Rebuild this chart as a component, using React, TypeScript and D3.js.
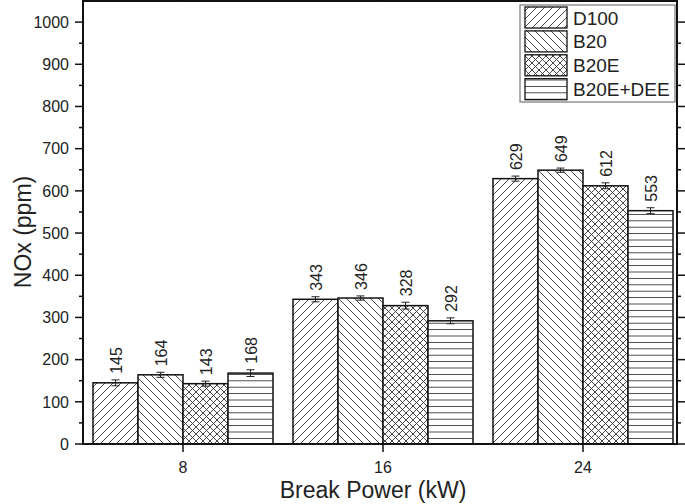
import React, { useEffect, useRef } from "react";
import * as d3 from "d3";

const groups = [8, 16, 24];
const seriesNames = ["D100", "B20", "B20E", "B20E+DEE"];
const d100 = [145, 343, 629];
const b20 = [164, 346, 649];
const b20e = [143, 328, 612];
const b20eDee = [168, 292, 553];
const d100Err = [7, 6, 6];
const b20Err = [6, 5, 5];
const b20eErr = [6, 8, 7];
const b20eDeeErr = [8, 7, 7];
const yTicks = [0, 100, 200, 300, 400, 500, 600, 700, 800, 900, 1000];

const values = [d100, b20, b20e, b20eDee];
const errors = [d100Err, b20Err, b20eErr, b20eDeeErr];
const patterns = ["hatchFwd", "hatchBack", "hatchCross", "hatchHoriz"];

export default function App() {
  const ref = useRef<SVGSVGElement>(null);

  useEffect(() => {
    const svg = d3.select(ref.current);
    svg.selectAll("*").remove();

    const width = 685,
      height = 504;
    const left = 83,
      right = 677,
      top = 1,
      bottom = 444;
    const font = "'Liberation Sans', Arial, sans-serif";

    const x = d3.scaleLinear().domain([4, 27.76]).range([left, right]);
    const y = d3.scaleLinear().domain([0, 1050]).range([bottom, top]);
    const barW = 1.8; // in x units
    const offsets = [-1.5, -0.5, 0.5, 1.5];

    // patterns
    const defs = svg.append("defs");
    const mk = (id, w, h, d) => {
      const p = defs
        .append("pattern")
        .attr("id", id)
        .attr("patternUnits", "userSpaceOnUse")
        .attr("width", w)
        .attr("height", h);
      p.append("rect").attr("width", w).attr("height", h).attr("fill", "#fff");
      p.append("path")
        .attr("d", d)
        .attr("stroke", "#333")
        .attr("stroke-width", 0.9)
        .attr("fill", "none");
    };
    mk("hatchFwd", 8, 8, "M-2,2 L2,-2 M0,8 L8,0 M6,10 L10,6");
    mk("hatchBack", 8, 8, "M-2,6 L2,10 M0,0 L8,8 M6,-2 L10,2");
    mk(
      "hatchCross",
      7,
      7,
      "M-2,2 L2,-2 M0,7 L7,0 M5,9 L9,5 M-2,5 L2,9 M0,0 L7,7 M5,-2 L9,2"
    );
    mk("hatchHoriz", 8, 6.4, "M0,3.2 L8,3.2");

    const g = svg.append("g");

    // bars
    values.forEach((vals, si) => {
      vals.forEach((v, gi) => {
        const cx = groups[gi] + offsets[si] * barW;
        const x0 = x(cx - barW / 2);
        const x1 = x(cx + barW / 2);
        g.append("rect")
          .attr("x", x0)
          .attr("y", y(v))
          .attr("width", x1 - x0)
          .attr("height", bottom - y(v))
          .attr("fill", `url(#${patterns[si]})`)
          .attr("stroke", "#111")
          .attr("stroke-width", 1.5);

        const e = errors[si][gi];
        const px = x(cx);
        g.append("path")
          .attr(
            "d",
            `M${px},${y(v - e)}V${y(v + e)}M${px - 4},${y(v + e)}H${px + 4}M${px - 4},${y(v - e)}H${px + 4}`
          )
          .attr("stroke", "#222")
          .attr("stroke-width", 1)
          .attr("fill", "none");

        g.append("text")
          .attr("transform", `translate(${px + 6},${y(v + e) - 6}) rotate(-90)`)
          .attr("font-family", font)
          .attr("font-size", 16)
          .attr("fill", "#222")
          .text(v);
      });
    });

    // frame
    g.append("rect")
      .attr("x", left)
      .attr("y", top)
      .attr("width", right - left)
      .attr("height", bottom - top)
      .attr("fill", "none")
      .attr("stroke", "#111")
      .attr("stroke-width", 2);

    // y axis ticks
    const minor = d3.range(50, 1050, 100);
    const tickG = g.append("g").attr("stroke", "#111").attr("stroke-width", 1.5);
    yTicks.forEach((t) => {
      tickG.append("line").attr("x1", left - 8).attr("x2", left).attr("y1", y(t)).attr("y2", y(t));
      tickG.append("line").attr("x1", right).attr("x2", right + 8).attr("y1", y(t)).attr("y2", y(t));
    });
    minor.forEach((t) => {
      tickG.append("line").attr("x1", left - 4).attr("x2", left).attr("y1", y(t)).attr("y2", y(t));
      tickG.append("line").attr("x1", right).attr("x2", right + 4).attr("y1", y(t)).attr("y2", y(t));
    });
    groups.forEach((t) => {
      tickG.append("line").attr("x1", x(t)).attr("x2", x(t)).attr("y1", bottom).attr("y2", bottom + 8);
      tickG.append("line").attr("x1", x(t)).attr("x2", x(t)).attr("y1", top).attr("y2", top - 8);
    });

    g.selectAll(".ylab")
      .data(yTicks)
      .enter()
      .append("text")
      .attr("x", left - 14)
      .attr("y", (d) => y(d))
      .attr("dy", "0.36em")
      .attr("text-anchor", "end")
      .attr("font-family", font)
      .attr("font-size", 16)
      .attr("fill", "#222")
      .text((d) => d);

    g.selectAll(".xlab")
      .data(groups)
      .enter()
      .append("text")
      .attr("x", (d) => x(d))
      .attr("y", 473)
      .attr("text-anchor", "middle")
      .attr("font-family", font)
      .attr("font-size", 16)
      .attr("fill", "#222")
      .text((d) => d);

    // axis titles
    g.append("text")
      .attr("x", 373)
      .attr("y", 498)
      .attr("text-anchor", "middle")
      .attr("font-family", font)
      .attr("font-size", 23)
      .attr("fill", "#222")
      .text("Break Power (kW)");

    g.append("text")
      .attr("transform", `translate(31,232) rotate(-90)`)
      .attr("text-anchor", "middle")
      .attr("font-family", font)
      .attr("font-size", 23)
      .attr("fill", "#222")
      .text("NOx (ppm)");

    // legend
    const lg = g.append("g");
    lg.append("rect")
      .attr("x", 520)
      .attr("y", 5)
      .attr("width", 155)
      .attr("height", 97)
      .attr("fill", "#fff")
      .attr("stroke", "#777")
      .attr("stroke-width", 1.2);
    seriesNames.forEach((name, i) => {
      const ry = 7 + i * 23.9;
      lg.append("rect")
        .attr("x", 525)
        .attr("y", ry)
        .attr("width", 42)
        .attr("height", 21)
        .attr("fill", `url(#${patterns[i]})`)
        .attr("stroke", "#111")
        .attr("stroke-width", 1.3);
      lg.append("text")
        .attr("x", 573)
        .attr("y", ry + 17.5)
        .attr("font-family", font)
        .attr("font-size", 19)
        .attr("fill", "#222")
        .text(name);
    });
  }, []);

  return (
    <svg
      ref={ref}
      width={685}
      height={504}
      style={{ position: "absolute", left: 0, top: 0, background: "#fff" }}
    />
  );
}
